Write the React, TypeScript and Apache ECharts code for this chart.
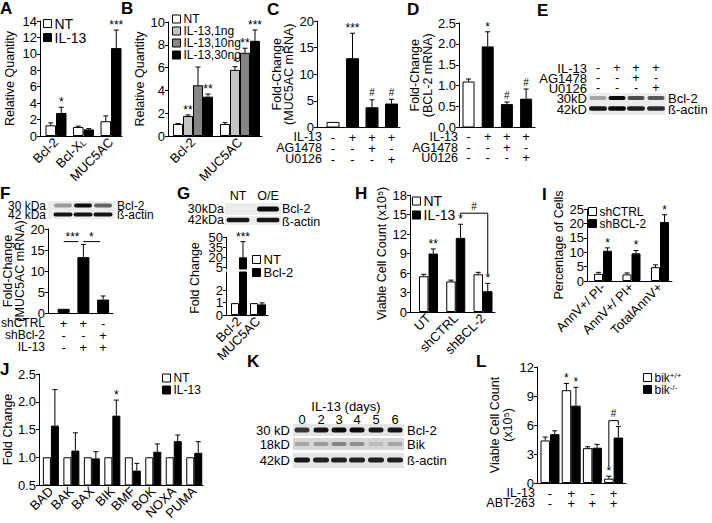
import React, { useEffect, useRef } from 'react';
import * as echarts from 'echarts';

const FONT = '"Liberation Sans", Arial, Helvetica, sans-serif';

// ---------------- Panel A ----------------
const aCats = ['Bcl-2', 'Bcl-XL', 'MUC5AC'];
const aNT = [1.3, 1.1, 1.8];
const aNTErr = [0.3, 0.1, 0.65];
const aIL13 = [2.8, 0.8, 10.7];
const aIL13Err = [0.7, 0.1, 2.2];
const aIL13Sig = ['*', '', '***'];

// ---------------- Panel B ----------------
const bCats = ['Bcl-2', 'MUC5AC'];
const bNT = [1.05, 1.05];
const bNTErr = [0.05, 0.12];
const b1ng = [1.75, 5.8];
const b1ngErr = [0.1, 0.28];
const b1ngSig = ['**', '*'];
const b10ng = [4.45, 7.3];
const b10ngErr = [1.6, 0.4];
const b10ngSig = ['', '**'];
const b30ng = [3.45, 8.35];
const b30ngErr = [0.23, 0.95];
const b30ngSig = ['**', '***'];

// ---------------- Panel C ----------------
const cIL13 = ['-', '+', '+', '+'];
const cAG = ['-', '-', '+', '-'];
const cU0 = ['-', '-', '-', '+'];
const cVals = [1.05, 13.0, 3.8, 4.5];
const cErr = [0, 4.7, 1.4, 0.8];
const cSig = ['', '***', '#', '#'];

// ---------------- Panel D ----------------
const dIL13 = ['-', '+', '+', '+'];
const dAG = ['-', '-', '+', '-'];
const dU0 = ['-', '-', '-', '+'];
const dVals = [1.1, 1.94, 0.56, 0.69];
const dErr = [0.06, 0.35, 0.05, 0.23];
const dSig = ['', '*', '#', '#'];

// ---------------- Panel E (blot) ----------------
const eIL13 = ['-', '+', '+', '+'];
const eAG = ['-', '-', '+', '-'];
const eU0 = ['-', '-', '-', '+'];
const eBcl2 = [0.3, 1.0, 0.7, 0.65];
const eActin = [0.95, 1.0, 0.9, 0.85];

// ---------------- Panel F ----------------
const fShCtrl = ['+', '+', '-'];
const fShBcl2 = ['-', '-', '+'];
const fIL13 = ['-', '+', '+'];
const fVals = [1.0, 13.3, 3.2];
const fErr = [0, 3.0, 0.85];
const fBcl2Blot = [0.35, 1.0, 0.6];
const fActinBlot = [0.95, 0.95, 0.95];

// ---------------- Panel G ----------------
const gCats = ['Bcl-2', 'MUC5AC'];
const gNT = [0.95, 0.95];
const gBcl2 = [19.5, 0.85];
const gBcl2Err = [23.5, 0.12];
const gBcl2Sig = ['***', ''];
const gLowTicks = [0, 1, 2];
const gHighTicks = [5, 20, 35, 50];
const gLanes = ['NT', 'O/E'];
const gBcl2Blot = [0.0, 1.0];
const gActinBlot = [0.95, 0.95];

// ---------------- Panel H ----------------
const hCats = ['UT', 'shCTRL', 'shBCL-2'];
const hNT = [5.5, 4.7, 5.8];
const hNTErr = [0.3, 0.2, 0.3];
const hIL13 = [9.0, 11.4, 3.2];
const hIL13Err = [0.7, 2.1, 1.2];
const hIL13Sig = ['**', '*', '*'];

// ---------------- Panel I ----------------
const iCats = ['AnnV+/ PI-', 'AnnV+/ PI+', 'TotalAnnV+'];
const iCtrl = [2.5, 2.3, 4.8];
const iCtrlErr = [0.5, 0.5, 0.8];
const iBcl2 = [10.5, 9.6, 20.5];
const iBcl2Err = [1.0, 1.0, 2.5];
const iBcl2Sig = ['*', '*', '*'];

// ---------------- Panel J ----------------
const jCats = ['BAD', 'BAK', 'BAX', 'BIK', 'BMF', 'BOK', 'NOXA', 'PUMA'];
const jNT = [1, 1, 1, 1, 1, 1, 1, 1];
const jIL13 = [1.57, 1.12, 0.98, 1.75, 0.76, 1.1, 1.29, 1.08];
const jIL13Err = [0.65, 0.32, 0.12, 0.28, 0.13, 0.14, 0.11, 0.2];
const jIL13Sig = ['', '', '', '*', '', '', '', ''];

// ---------------- Panel K (blot) ----------------
const kDays = ['0', '2', '3', '4', '5', '6'];
const kBcl2 = [0.8, 0.95, 1.0, 1.0, 0.95, 0.95];
const kBik = [0.3, 0.35, 0.45, 0.4, 0.2, 0.3];
const kActin = [0.95, 0.9, 0.9, 0.9, 0.9, 0.9];

// ---------------- Panel L ----------------
const lIL13 = ['-', '+', '-', '+'];
const lABT = ['-', '+', '+', '+'];
const lWT = [4.4, 9.6, 3.6, 0.45];
const lWTErr = [0.35, 0.7, 0.15, 0.25];
const lWTSig = ['', '*', '', '*'];
const lKO = [5.05, 8.0, 3.65, 4.7];
const lKOErr = [0.35, 1.9, 0.35, 1.15];
const lKOSig = ['', '*', '', ''];

// ---------------- helpers ----------------
const rows = (...r: string[][]) => r[0].map((_, k) => r.map((x) => x[k]).join('\n'));

type Cfg = {
  x0: number; c1: number; s: number; xe: number; top: number; bottom: number;
  ymin: number; ymax: number; interval?: number; yLabels?: number[]; yTicks?: number[]; yDec?: number;
  yExtraLabels?: number[];
  name?: string; nameGap?: number; xLabels?: string[]; rotate?: number;
  xMargin?: number; xLineHeight?: number; hideXLine?: boolean;
};

function buildOption() {
  const grids: any[] = [];
  const xAxes: any[] = [];
  const yAxes: any[] = [];
  const series: any[] = [];

  const yLabelStyle = (c: Cfg, custom?: number[]) => ({
    color: '#000', fontSize: 13, fontFamily: FONT, margin: 3,
    customValues: custom,
    formatter: c.yDec != null ? (v: number) => v.toFixed(c.yDec as number) : undefined,
  });

  const addPanel = (c: Cfg) => {
    const i = grids.length;
    grids.push({ left: c.x0, top: c.top, width: c.xe - c.x0, height: c.bottom - c.top });
    const labels = c.xLabels;
    xAxes.push({
      type: 'value', gridIndex: i,
      min: 1 - (c.c1 - c.x0) / c.s, max: 1 + (c.xe - c.c1) / c.s,
      axisLine: { show: !c.hideXLine, onZero: false, lineStyle: { color: '#000', width: 1 } },
      axisTick: { show: false }, splitLine: { show: false },
      axisLabel: labels
        ? {
            show: true,
            customValues: labels.map((_, k) => k + 1),
            formatter: (v: number) => {
              const t = labels[Math.round(v) - 1] ?? '';
              return t === 'Bcl-XL' ? '{n|Bcl-X}{sub|L}' : t;
            },
            rotate: c.rotate || 0,
            margin: c.xMargin ?? 4,
            lineHeight: c.xLineHeight,
            color: '#000', fontSize: 13, fontFamily: FONT,
            rich: {
              n: { fontSize: 13, fontFamily: FONT, color: '#000' },
              sub: { fontSize: 9, fontFamily: FONT, color: '#000', verticalAlign: 'bottom' },
            },
          }
        : { show: false },
    });
    const yi = yAxes.length;
    yAxes.push({
      type: 'value', gridIndex: i, position: 'left', min: c.ymin, max: c.ymax, interval: c.interval,
      axisLine: { show: true, onZero: false, lineStyle: { color: '#000', width: 1 } },
      axisTick: { show: true, length: 3, lineStyle: { color: '#000' }, customValues: c.yTicks },
      splitLine: { show: false },
      axisLabel: yLabelStyle(c, c.yLabels),
      name: c.name, nameLocation: 'middle', nameGap: c.nameGap,
      nameTextStyle: { color: '#000', fontSize: 12.5, fontFamily: FONT, lineHeight: 12.5 },
    });
    if (c.yExtraLabels) {
      // second, label-only axis on the same grid, so that closely spaced labels are all kept
      yAxes.push({
        type: 'value', gridIndex: i, position: 'left', offset: 0, min: c.ymin, max: c.ymax,
        axisLine: { show: false }, axisTick: { show: false }, splitLine: { show: false },
        axisLabel: yLabelStyle(c, c.yExtraLabels),
      });
    }
    return { x: i, y: yi };
  };

  const bars = (ax: any, name: string, vals: any[], color: any, w: number) => {
    series.push({
      type: 'bar', name, xAxisIndex: ax.x, yAxisIndex: ax.y, silent: true,
      data: vals.map((v, k) => [k + 1, v]),
      barWidth: w, barGap: '0%',
      itemStyle: { color, borderColor: '#000', borderWidth: 1 },
    });
  };

  const errs = (ax: any, vals: number[], e: number[], sig: string[] | null, off: number) => {
    series.push({
      type: 'custom', xAxisIndex: ax.x, yAxisIndex: ax.y, z: 10, silent: true,
      data: vals.map((v, k) => [k + 1, v, e[k], k]),
      renderItem: (_p: any, api: any) => {
        const x = api.value(0), v = api.value(1), er = api.value(2), k = api.value(3);
        const b = api.coord([x, v]);
        const t = api.coord([x, v + er]);
        const cx = b[0] + off;
        const ch: any[] = [];
        if (er > 0) {
          ch.push({ type: 'line', shape: { x1: cx, y1: b[1], x2: cx, y2: t[1] }, style: { stroke: '#000', lineWidth: 1 } });
          ch.push({ type: 'line', shape: { x1: cx - 2.5, y1: t[1], x2: cx + 2.5, y2: t[1] }, style: { stroke: '#000', lineWidth: 1 } });
        }
        const s = sig ? sig[k] : '';
        if (s) {
          ch.push({
            type: 'text', x: cx, y: s === '#' ? t[1] - 2 : t[1] + 1,
            style: { text: s, align: 'center', verticalAlign: 'bottom', fill: '#000', fontSize: s === '#' ? 10 : 12, fontFamily: FONT },
          });
        }
        return { type: 'group', children: ch };
      },
    });
  };

  const bracket = (ax: any, pts: number[][], label: string, lp: number[]) => {
    series.push({
      type: 'custom', xAxisIndex: ax.x, yAxisIndex: ax.y, z: 10, silent: true,
      data: [[pts[0][0], pts[0][2]]],
      renderItem: (_p: any, api: any) => {
        const P = pts.map(([x, off, y]) => {
          const c = api.coord([x, y]);
          return [c[0] + off, c[1]];
        });
        const L = api.coord([lp[0], lp[2]]);
        return {
          type: 'group',
          children: [
            { type: 'polyline', shape: { points: P }, style: { stroke: '#000', fill: null, lineWidth: 1 } },
            {
              type: 'text', x: L[0] + lp[1], y: label === '#' ? L[1] - 2 : L[1] + 1,
              style: { text: label, align: 'center', verticalAlign: 'bottom', fill: '#000', fontSize: label === '#' ? 10 : 12, fontFamily: FONT },
            },
          ],
        };
      },
    });
  };

  const WHITE = '#ffffff';
  const BLACK = '#000000';
  const firstWhite = (p: any) => (p.dataIndex === 0 ? WHITE : BLACK);

  // A
  const A = addPanel({ x0: 40, c1: 56, s: 27.5, xe: 122, top: 21, bottom: 136, ymin: 0, ymax: 14, interval: 2, name: 'Relative Quantity', nameGap: 24, xLabels: aCats, rotate: 45 });
  bars(A, 'NT', aNT, WHITE, 10.5);
  bars(A, 'IL-13', aIL13, BLACK, 10.5);
  errs(A, aNT, aNTErr, null, -5.25);
  errs(A, aIL13, aIL13Err, aIL13Sig, 5.25);

  // B
  const B = addPanel({ x0: 168, c1: 193, s: 47, xe: 262, top: 22, bottom: 136, ymin: 0, ymax: 10, interval: 2, name: 'Relative Quantity', nameGap: 18, xLabels: bCats, rotate: 45 });
  bars(B, 'NT', bNT, WHITE, 10);
  bars(B, 'IL-13,1ng', b1ng, '#c4c4c4', 10);
  bars(B, 'IL-13,10ng', b10ng, '#858585', 10);
  bars(B, 'IL-13,30ng', b30ng, BLACK, 10);
  errs(B, bNT, bNTErr, null, -15);
  errs(B, b1ng, b1ngErr, b1ngSig, -5);
  errs(B, b10ng, b10ngErr, b10ngSig, 5);
  errs(B, b30ng, b30ngErr, b30ngSig, 15);

  // C
  const C = addPanel({ x0: 317, c1: 333, s: 19.5, xe: 400, top: 21, bottom: 127.5, ymin: 0, ymax: 20, interval: 5, name: 'Fold-Change\n(MUC5AC mRNA)', nameGap: 21, xLabels: rows(cIL13, cAG, cU0), xMargin: 4, xLineHeight: 11 });
  bars(C, 'C', cVals, firstWhite, 13);
  errs(C, cVals, cErr, cSig, 0);

  // D
  const D = addPanel({ x0: 459, c1: 468.5, s: 19.2, xe: 535, top: 23, bottom: 127.5, ymin: 0, ymax: 2.5, interval: 0.5, yDec: 1, name: 'Fold-Change\n(BCL-2 mRNA)', nameGap: 23, xLabels: rows(dIL13, dAG, dU0), xMargin: 4, xLineHeight: 10.5 });
  bars(D, 'D', dVals, firstWhite, 12);
  errs(D, dVals, dErr, dSig, 0);

  // F
  const F = addPanel({ x0: 47, c1: 63, s: 20, xe: 113, top: 229, bottom: 313, ymin: 0, ymax: 20, interval: 5, name: 'Fold-Change\n(MUC5AC mRNA)', nameGap: 17, xLabels: rows(fShCtrl, fShBcl2, fIL13), xMargin: 4, xLineHeight: 12 });
  bars(F, 'F', fVals, BLACK, 12);
  errs(F, fVals, fErr, null, 0);
  bracket(F, [[1, 0, 17], [2, -5, 17]], '***', [1.45, 0, 17]);
  bracket(F, [[2, 0, 17], [3, -3, 17]], '*', [2.4, 0, 17]);

  // G (broken axis: lower 0-2 and upper 5-50)
  const G1 = addPanel({
    x0: 226, c1: 239, s: 19, xe: 268, top: 272, bottom: 315, ymin: 0, ymax: 3.44,
    yTicks: gLowTicks, yLabels: gLowTicks.filter((_, k) => k % 2 === 0), yExtraLabels: gLowTicks.filter((_, k) => k % 2 === 1),
    xLabels: gCats, rotate: 45,
  });
  bars(G1, 'NT', gNT, WHITE, 8);
  bars(G1, 'Bcl-2', gBcl2, BLACK, 8);
  errs(G1, gBcl2.map((v) => (v < 3 ? v : 0)), gBcl2Err.map((e, k) => (gBcl2[k] < 3 ? e : 0)), null, 4);
  const G2 = addPanel({
    x0: 226, c1: 239, s: 19, xe: 268, top: 237, bottom: 269, ymin: 2, ymax: 50,
    yTicks: gHighTicks, yLabels: gHighTicks.filter((_, k) => k % 2 === 0), yExtraLabels: gHighTicks.filter((_, k) => k % 2 === 1),
    hideXLine: true,
  });
  bars(G2, 'NT', gNT.map((v) => (v > 2 ? v : '-')), WHITE, 8);
  bars(G2, 'Bcl-2', gBcl2.map((v) => (v > 2 ? v : '-')), BLACK, 8);
  errs(G2, gBcl2, gBcl2Err.map((e, k) => (gBcl2[k] > 2 ? e : 0)), gBcl2Sig, 4);

  // H
  const H = addPanel({ x0: 410, c1: 428.5, s: 27.25, xe: 495, top: 195, bottom: 312, ymin: 0, ymax: 18, interval: 3, name: 'Viable Cell Count (x10\u2075)', nameGap: 20, xLabels: hCats, rotate: 45 });
  bars(H, 'NT', hNT, WHITE, 9.5);
  bars(H, 'IL-13', hIL13, BLACK, 9.5);
  errs(H, hNT, hNTErr, null, -4.75);
  errs(H, hIL13, hIL13Err, hIL13Sig, 4.75);
  bracket(H, [[2, 4.75, 14.8], [2, 4.75, 15.2], [3, 4.75, 15.2], [3, 4.75, 5.8]], '#', [2.5, 4.75, 15.2]);

  // I
  const I = addPanel({ x0: 587, c1: 603, s: 28.5, xe: 672, top: 209, bottom: 281, ymin: 0, ymax: 25, interval: 5, name: 'Percentage of Cells', nameGap: 22, xLabels: iCats, rotate: 45 });
  bars(I, 'shCTRL', iCtrl, WHITE, 9);
  bars(I, 'shBCL-2', iBcl2, BLACK, 9);
  errs(I, iCtrl, iCtrlErr, null, -4.5);
  errs(I, iBcl2, iBcl2Err, iBcl2Sig, 4.5);

  // J
  const J = addPanel({ x0: 38, c1: 50, s: 20.6, xe: 203, top: 374, bottom: 485, ymin: 0.5, ymax: 2.5, interval: 0.5, yDec: 1, name: 'Fold Change', nameGap: 24, xLabels: jCats, rotate: 45 });
  bars(J, 'NT', jNT, WHITE, 8);
  bars(J, 'IL-13', jIL13, BLACK, 8);
  errs(J, jIL13, jIL13Err, jIL13Sig, 4);

  // L
  const L = addPanel({ x0: 537, c1: 550, s: 21.2, xe: 626, top: 367, bottom: 483, ymin: 0, ymax: 12, interval: 3, name: 'Viable Cell Count\n(x10\u2075)', nameGap: 23, xLabels: rows(lIL13, lABT), xMargin: 5, xLineHeight: 10 });
  bars(L, 'bik+/+', lWT, WHITE, 9.5);
  bars(L, 'bik-/-', lKO, BLACK, 9.5);
  errs(L, lWT, lWTErr, lWTSig, -4.75);
  errs(L, lKO, lKOErr, lKOSig, 4.75);
  bracket(L, [[4, -4.75, 1.7], [4, -4.75, 6.45], [4, 4.75, 6.45], [4, 4.75, 6.0]], '#', [4, 0, 6.45]);

  // legends
  const lg = (data: string[], left: number, top: number, lh: number, fs: number, extra: any = {}) => ({
    data, left, top, orient: 'vertical', padding: 0, itemGap: 0, itemWidth: 8, itemHeight: 8, icon: 'rect',
    selectedMode: false,
    itemStyle: { borderColor: '#000', borderWidth: 1 },
    textStyle: { color: '#000', fontSize: fs, fontFamily: FONT, lineHeight: lh, padding: [0, 0, 0, -2], ...(extra.rich ? { rich: extra.rich } : {}) },
    ...(extra.formatter ? { formatter: extra.formatter } : {}),
  });
  const legends = [
    lg(['NT', 'IL-13'], 43, 16.5, 12, 14),
    lg(['NT', 'IL-13,1ng', 'IL-13,10ng', 'IL-13,30ng'], 172, 13, 10.5, 12),
    lg(['NT', 'Bcl-2'], 252, 253, 12, 13),
    lg(['NT', 'IL-13'], 412, 194, 13.5, 14),
    lg(['shCTRL', 'shBCL-2'], 588, 205.5, 10, 12),
    lg(['NT', 'IL-13'], 162, 372, 10.5, 12),
    lg(['bik+/+', 'bik-/-'], 643, 371.5, 11.5, 12, {
      formatter: (n: string) => (n === 'bik+/+' ? '{b|bik}{s|+/+}' : '{b|bik}{s|-/-}'),
      rich: {
        b: { fontSize: 12, fontFamily: FONT, color: '#000' },
        s: { fontSize: 8, fontFamily: FONT, color: '#000', verticalAlign: 'top' },
      },
    }),
  ];

  // graphics
  const g: any[] = [];
  const text = (x: number, y: number, t: string, o: any = {}) =>
    g.push({
      type: 'text', x, y, rotation: o.rot || 0, silent: true,
      style: {
        text: t, fill: '#000', fontSize: o.size || 12.5, fontFamily: FONT,
        lineHeight: o.lh || 9,
        fontWeight: o.bold ? 'bold' : 'normal', align: o.align || 'left', verticalAlign: o.va || 'middle',
      },
    });
  const band = (cx: number, cy: number, w: number, h: number, k: number) => {
    const v = Math.round(232 - 222 * k);
    g.push({ type: 'rect', silent: true, shape: { x: cx - w / 2, y: cy - h / 2, width: w, height: h, r: h / 2 }, style: { fill: `rgb(${v},${v},${v})` } });
  };
  const strip = (x: number, y: number, w: number, h: number, fill: string) =>
    g.push({ type: 'rect', silent: true, shape: { x, y, width: w, height: h }, style: { fill } });

  // panel letters
  [['A', 0, 0], ['B', 121, 0], ['C', 267, 1], ['D', 407, 1], ['E', 537, 2], ['F', 0, 185], ['G', 177, 185], ['H', 355, 185], ['I', 542, 186], ['J', 0, 361], ['K', 247, 353], ['L', 476, 353]].forEach(
    ([t, x, y]) => text(x as number, y as number, t as string, { size: 17, bold: true, va: 'top', lh: 17 })
  );

  // C / D row titles
  ['IL-13', 'AG1478', 'U0126'].forEach((t, k) => text(322, [137, 148, 159][k], t, { align: 'right' }));
  ['IL-13', 'AG1478', 'U0126'].forEach((t, k) => text(458, [137, 147.5, 158][k], t, { align: 'right' }));
  // F row titles
  ['shCTRL', 'shBcl-2', 'IL-13'].forEach((t, k) => text(45, [323, 334.5, 346.5][k], t, { align: 'right', size: 12 }));
  // L row titles
  ['IL-13', 'ABT-263'].forEach((t, k) => text(535, [493, 503][k], t, { align: 'right' }));

  // E blot
  const eLanes = [598, 617, 636, 656];
  ['IL-13', 'AG1478', 'U0126', '30kD', '42kD'].forEach((t, k) => text(587, [68, 78, 88, 98, 109][k], t, { align: 'right', size: 13 }));
  [eIL13, eAG, eU0].forEach((r, ri) => r.forEach((s, k) => text(eLanes[k], [68, 78, 88][ri], s, { align: 'center' })));
  strip(588, 93, 78, 22, '#ececec');
  eBcl2.forEach((k, n) => band(eLanes[n], 98, 17, 4, k));
  eActin.forEach((k, n) => band(eLanes[n], 108.5, 18, 4.5, k));
  text(668, 98, 'Bcl-2', { size: 13 });
  text(668, 109, '\u00DF-actin', { size: 13 });

  // F blot
  const fLanes = [63, 83, 103];
  strip(48, 201, 67, 18, '#ececec');
  fBcl2Blot.forEach((k, n) => band(fLanes[n], 205.5, 18, 4, k));
  fActinBlot.forEach((k, n) => band(fLanes[n], 214.5, 19, 4, k));
  text(46, 206, '30 kDa', { align: 'right', size: 12 });
  text(46, 215, '42 kDa', { align: 'right', size: 12 });
  text(117, 206, 'Bcl-2', { size: 12 });
  text(117, 215, '\u00DF-actin', { size: 12 });

  // G blot
  const gL = [238, 268];
  gLanes.forEach((t, n) => text(gL[n], 196, t, { align: 'center' }));
  strip(225, 203, 56, 12, '#ececec');
  strip(225, 216, 56, 9, '#ececec');
  gBcl2Blot.forEach((k, n) => { if (k > 0) band(gL[n], 209, 22, 5, k); });
  gActinBlot.forEach((k, n) => band(gL[n], 220, 23, 4.5, k));
  text(224, 209, '30kDa', { align: 'right' });
  text(224, 220, '42kDa', { align: 'right' });
  text(282, 209, 'Bcl-2');
  text(282, 222, '\u00DF-actin');
  text(195, 278, 'Fold Change', { rot: Math.PI / 2, align: 'center', lh: 12.5 });

  // K blot
  const kL = [302, 321, 339, 357, 376, 395];
  text(346, 406, 'IL-13 (days)', { align: 'center', size: 13 });
  kDays.forEach((t, n) => text(kL[n], 419, t, { align: 'center', size: 13 }));
  strip(293, 424, 111, 12, '#e4e4e4');
  strip(293, 438, 111, 12, '#d6d6d6');
  strip(293, 453, 111, 15, '#e4e4e4');
  kBcl2.forEach((k, n) => band(kL[n], 430, 15, 5, k));
  kBik.forEach((k, n) => band(kL[n], 444, 15, 4, k));
  kActin.forEach((k, n) => band(kL[n], 460, 16, 5, k));
  text(290, 430, '30 kD', { align: 'right', size: 13 });
  text(290, 444, '18kD', { align: 'right', size: 13 });
  text(290, 460, '42kD', { align: 'right', size: 13 });
  text(407, 430, 'Bcl-2', { size: 13 });
  text(407, 444, 'Bik', { size: 13 });
  text(407, 460, '\u00DF-actin', { size: 13 });

  return {
    animation: false,
    textStyle: { fontFamily: FONT },
    grid: grids,
    xAxis: xAxes,
    yAxis: yAxes,
    legend: legends,
    series,
    graphic: { elements: g },
  };
}

export default function App() {
  const ref = useRef<HTMLDivElement>(null);
  useEffect(() => {
    if (!ref.current) return;
    const chart = echarts.init(ref.current, undefined, { renderer: 'svg' });
    chart.setOption(buildOption() as any);
    return () => chart.dispose();
  }, []);
  return (
    <div
      ref={ref}
      style={{ position: 'absolute', left: 0, top: 0, width: 712, height: 523, background: '#fff' }}
    />
  );
}
